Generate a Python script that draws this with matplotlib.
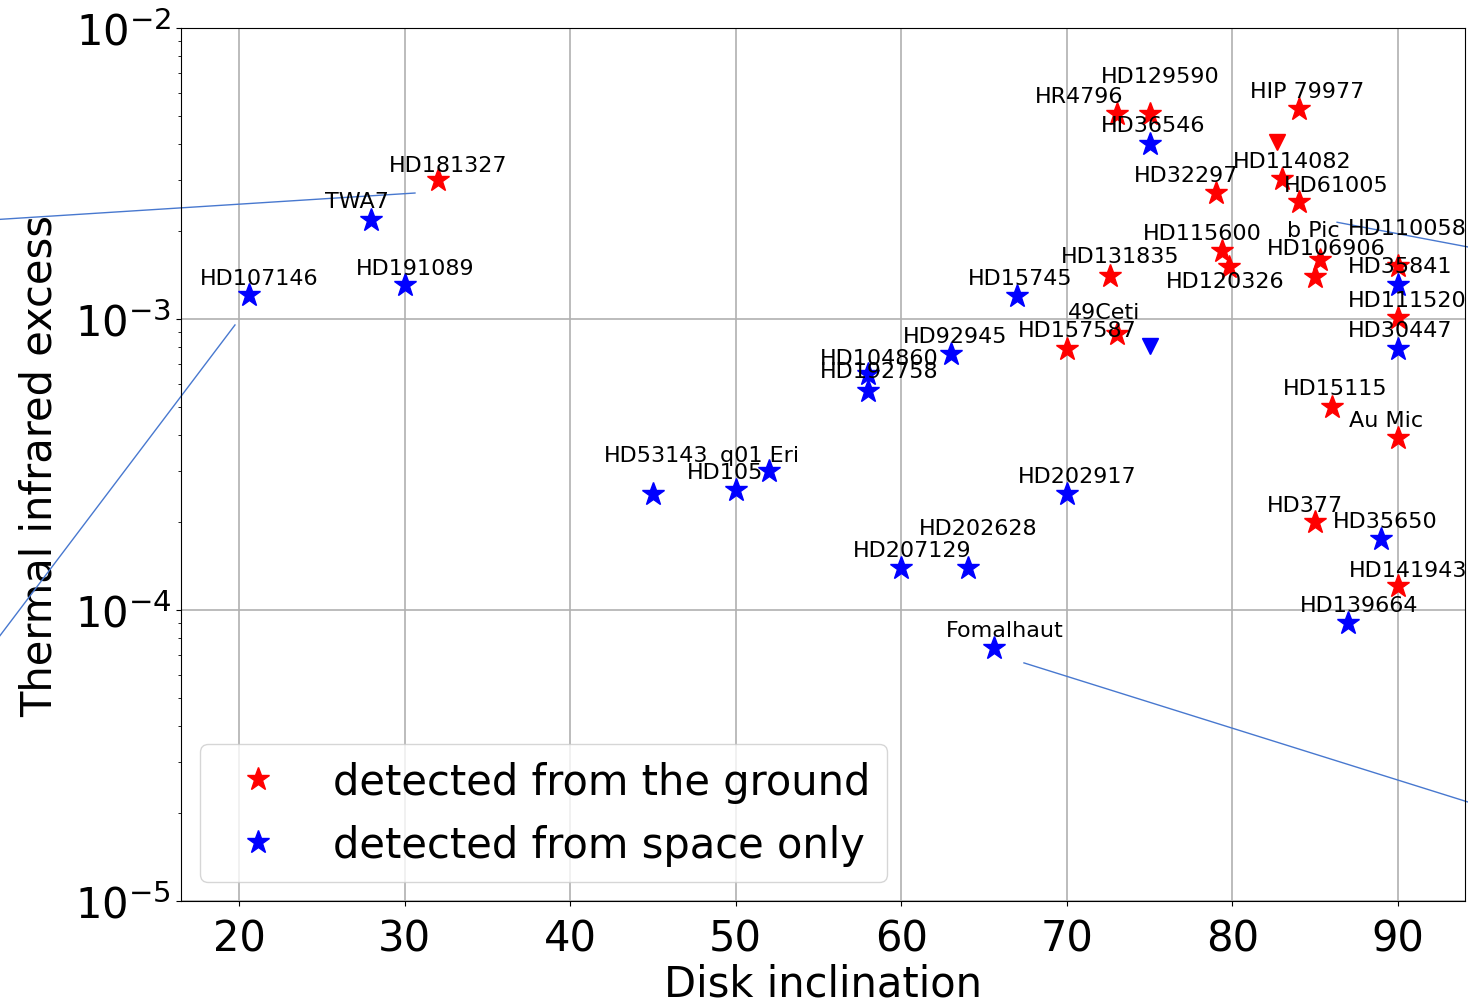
import matplotlib
matplotlib.use("Agg")
import matplotlib.pyplot as plt

# ---------------- data ----------------
ground_names = ["HD181327", "HR4796", "HD129590", "HIP 79977", "HD114082", "HD61005",
                "HD32297", "HD115600", "HD120326", "HD106906", "HD110058", "HD35841r",
                "HD111520", "HD131835", "49Ceti", "HD157587", "HD15115", "Au Mic",
                "HD377", "HD141943"]
ground_incl = [32, 73, 75, 84, 83, 84, 79, 79.4, 79.8, 85.3, 85.0, 90, 90, 72.6, 73,
               70, 86, 90, 85, 90]
ground_excess = [3.0e-3, 5.05e-3, 5.05e-3, 5.25e-3, 3.03e-3, 2.52e-3, 2.71e-3, 1.71e-3,
                 1.51e-3, 1.6e-3, 1.39e-3, 1.52e-3, 1.01e-3, 1.41e-3, 8.9e-4, 7.9e-4,
                 5.0e-4, 3.9e-4, 2.0e-4, 1.21e-4]

space_names = ["HD107146", "TWA7", "HD191089", "HD36546", "HD15745", "HD92945",
               "HD104860", "HD192758", "HD35841", "HD30447", "HD53143", "HD105",
               "q01 Eri", "HD202917", "HD207129", "HD202628", "Fomalhaut", "HD35650",
               "HD139664"]
space_incl = [20.6, 28, 30, 75, 67, 63, 58, 58, 90, 90, 45, 50, 52, 70, 60, 64, 65.6,
              89, 87]
space_excess = [1.21e-3, 2.19e-3, 1.31e-3, 3.99e-3, 1.2e-3, 7.58e-4, 6.45e-4, 5.66e-4,
                1.31e-3, 7.9e-4, 2.5e-4, 2.58e-4, 3.0e-4, 2.5e-4, 1.39e-4, 1.39e-4,
                7.4e-5, 1.75e-4, 9.0e-5]

# upper limits (triangles)
ground_limit_incl = [82.7]
ground_limit_excess = [4.05e-3]
space_limit_incl = [75]
space_limit_excess = [8.1e-4]

# labels (text, left/baseline anchor in data coordinates)
label_text = ["HD181327", "TWA7", "HD107146", "HD191089", "HR4796", "HD129590",
              "HIP 79977", "HD36546", "HD114082", "HD32297", "HD61005", "HD115600",
              "b Pic", "HD110058", "HD106906", "HD131835", "HD35841", "HD120326",
              "HD15745", "HD111520", "49Ceti", "HD157587", "HD30447", "HD92945",
              "HD104860", "HD192758", "HD15115", "Au Mic", "HD53143", "q01 Eri",
              "HD105", "HD202917", "HD202628", "HD207129", "Fomalhaut", "HD377",
              "HD35650", "HD141943", "HD139664"]
label_x = [29.06, 25.19, 17.64, 27.07, 68.08, 72.06, 81.06, 72.06, 80.03, 74.06, 83.12,
           74.6, 83.3, 86.98, 82.09, 69.65, 86.98, 75.99, 64.03, 86.98, 70.07, 67.05,
           86.98, 60.1, 55.09, 55.09, 83.05, 87.04, 42.05, 49.05, 47.06, 67.05, 61.07,
           57.08, 62.7, 82.09, 86.07, 87.04, 84.08]
label_y = [3.226e-3, 2.427e-3, 1.319e-3, 1.428e-3, 5.568e-3, 6.52e-3, 5.79e-3, 4.43e-3,
           3.33e-3, 2.98e-3, 2.754e-3, 1.883e-3, 1.929e-3, 1.96e-3, 1.673e-3, 1.57e-3,
           1.45e-3, 1.288e-3, 1.319e-3, 1.108e-3, 1.008e-3, 8.74e-4, 8.74e-4, 8.33e-4,
           7.0e-4, 6.32e-4, 5.52e-4, 4.29e-4, 3.25e-4, 3.25e-4, 2.84e-4, 2.754e-4,
           1.824e-4, 1.533e-4, 8.14e-5, 2.19e-4, 1.93e-4, 1.308e-4, 9.92e-5]

# stray guide lines (x pair, y pair)
guide_x = [(5.0, 30.63), (19.76, 5.0), (67.41, 95.0), (86.32, 95.0)]
guide_y = [(2.19e-3, 2.71e-3), (9.54e-4, 7.4e-5), (6.58e-5, 2.12e-5), (2.15e-3, 1.735e-3)]

# ---------------- plot ----------------
fig = plt.figure(figsize=(14.68, 10.04), dpi=100)
ax = fig.add_axes([0.1233, 0.1016, 0.8747, 0.8695])

ax.set_yscale("log")
ax.set_xlim(16.5, 94.05)
ax.set_ylim(1e-5, 1e-2)
ax.grid(True, which="major", color="#b0b0b0", linewidth=1.2)
ax.set_axisbelow(True)

ms = 17
ax.plot(ground_incl, ground_excess, linestyle="none", marker="*", color="red",
        markersize=ms, label="detected from the ground", zorder=3)
ax.plot(space_incl, space_excess, linestyle="none", marker="*", color="blue",
        markersize=ms, label="detected from space only", zorder=3)
ax.plot(ground_limit_incl, ground_limit_excess, linestyle="none", marker="v",
        color="red", markersize=11, zorder=3)
ax.plot(space_limit_incl, space_limit_excess, linestyle="none", marker="v",
        color="blue", markersize=11, zorder=3)

for t, x, y in zip(label_text, label_x, label_y):
    ax.text(x, y, t, fontsize=16, ha="left", va="baseline", zorder=4)

for gx, gy in zip(guide_x, guide_y):
    ax.plot(gx, gy, color="#4878cf", linewidth=1.0, clip_on=False, zorder=2)

ax.set_xticks([20, 30, 40, 50, 60, 70, 80, 90])
ax.tick_params(axis="both", which="major", labelsize=30)
ax.tick_params(axis="x", which="major", pad=8.5)
ax.set_xlabel("Disk inclination", fontsize=30, labelpad=2)
ax.set_ylabel("Thermal infrared excess", fontsize=30, labelpad=10)

ax.legend(loc="lower left", fontsize=30, borderaxespad=0.45)

fig.savefig("out.png", dpi=100)
